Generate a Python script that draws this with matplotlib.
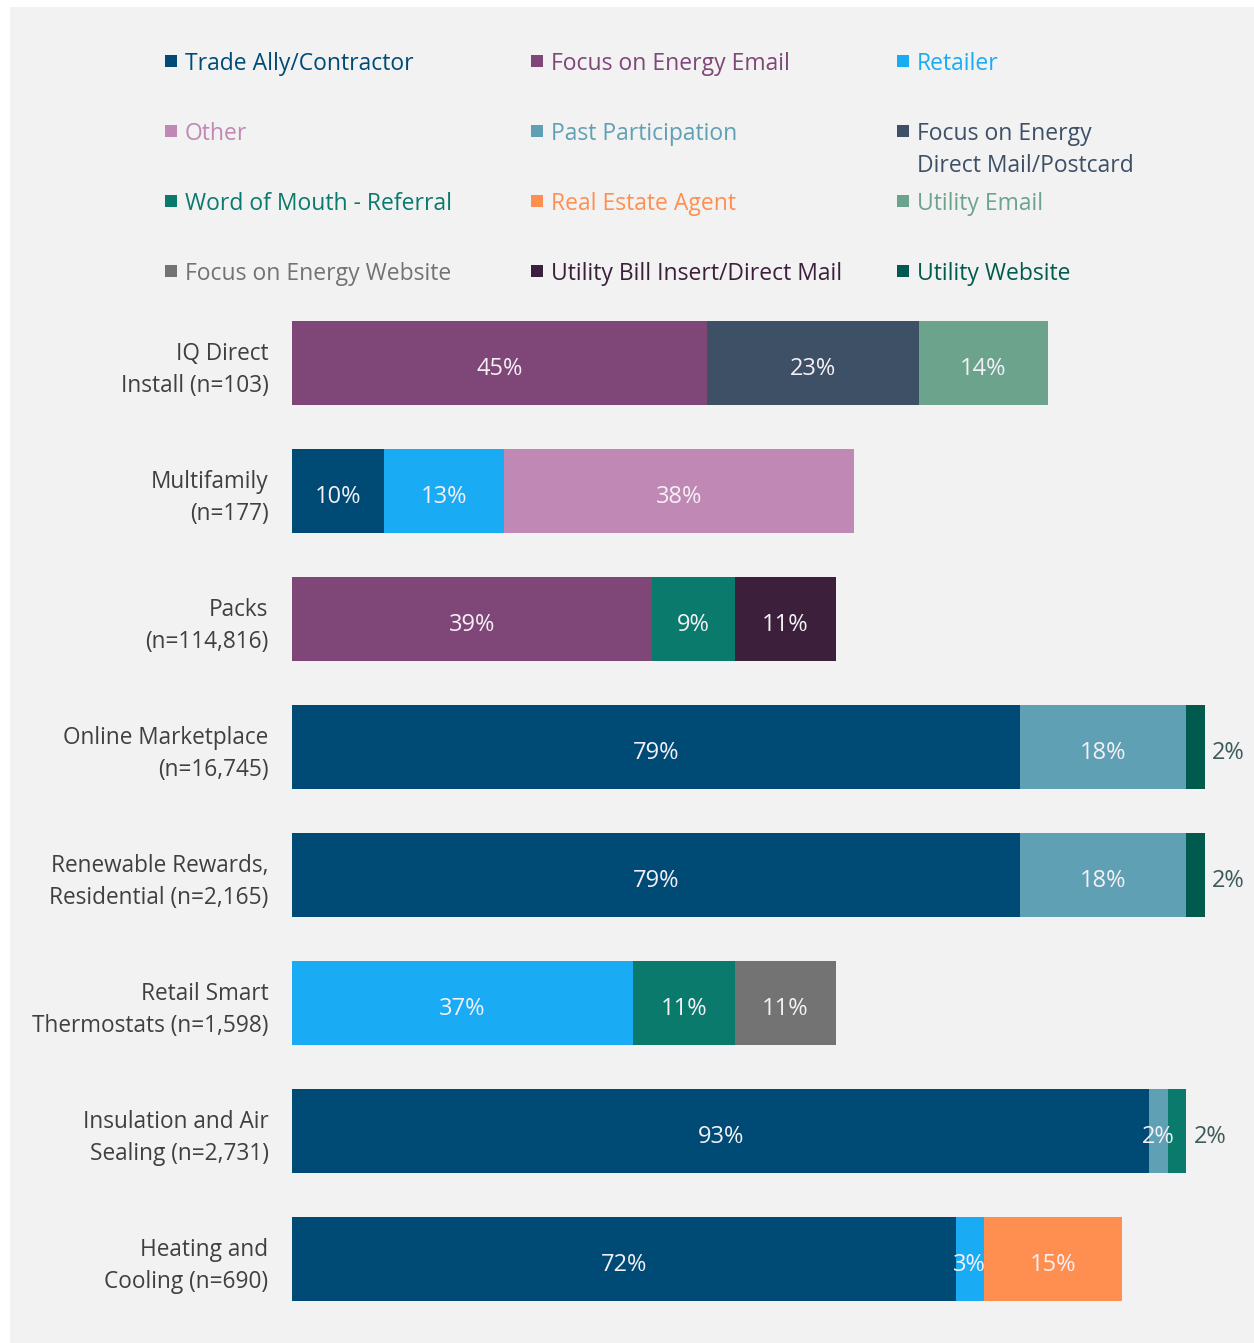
import numpy as np
import matplotlib
matplotlib.use("Agg")
import matplotlib.pyplot as plt
from matplotlib.patches import Rectangle

plt.rcParams['font.family'] = ['Open Sans', 'DejaVu Sans']

# categories, top to bottom
programs = ["IQ Direct\nInstall (n=103)", "Multifamily\n(n=177)", "Packs\n(n=114,816)",
            "Online Marketplace\n(n=16,745)", "Renewable Rewards,\nResidential (n=2,165)",
            "Retail Smart\nThermostats (n=1,598)", "Insulation and Air\nSealing (n=2,731)",
            "Heating and\nCooling (n=690)"]

# legend order (row-wise, 3 columns)
sources = ["Trade Ally/Contractor", "Focus on Energy Email", "Retailer",
           "Other", "Past Participation", "Focus on Energy\nDirect Mail/Postcard",
           "Word of Mouth - Referral", "Real Estate Agent", "Utility Email",
           "Focus on Energy Website", "Utility Bill Insert/Direct Mail", "Utility Website"]
colors = ["#004b76", "#7f4678", "#1aabf5",
          "#c088b4", "#5fa0b5", "#3e5066",
          "#0a7a6c", "#ff8f50", "#6ba38d",
          "#737373", "#3c1f3a", "#005a4d"]

# segments per program: (source index, percent)
segments = [
    [(1, 45), (5, 23), (8, 14)],
    [(0, 10), (2, 13), (3, 38)],
    [(1, 39), (6, 9), (10, 11)],
    [(0, 79), (4, 18), (11, 2)],
    [(0, 79), (4, 18), (11, 2)],
    [(2, 37), (6, 11), (9, 11)],
    [(0, 93), (4, 2), (6, 2)],
    [(0, 72), (2, 3), (7, 15)],
]
# small segments whose label sits outside the bar
outside = {(3, 2), (4, 2), (6, 2)}

W, H = 1254, 1343
fig = plt.figure(figsize=(W / 100, H / 100), dpi=100)
fig.patch.set_facecolor("white")
fig.patches.append(Rectangle((10 / W, 0), 1, 1 - 7 / H, transform=fig.transFigure,
                             facecolor="#f2f2f2", edgecolor="none", zorder=-10))

ax = fig.add_axes([292 / W, 1 - 1323 / H, 922 / W, 1024 / H])
ax.set_facecolor("none")

label_color = "#404040"
for i, segs in enumerate(segments):
    left = 0
    for j, (k, v) in enumerate(segs):
        ax.barh(i, v, left=left, height=0.66, color=colors[k], edgecolor="none")
        if (i, j) in outside:
            ax.text(left + v + 0.8, i + 0.02, f"{v}%", ha="left", va="center_baseline",
                    fontsize=17, color="#3f5a5a")
        else:
            ax.text(left + v / 2, i + 0.02, f"{v}%", ha="center", va="center_baseline",
                    fontsize=17, color="#f4f0f6")
        left += v

ax.set_xlim(0, 100)
ax.set_ylim(7.5, -0.5)
ax.set_yticks(range(len(programs)))
ax.set_yticklabels(programs, fontsize=16.3, color=label_color, linespacing=1.45,
                   ha="right")
ax.tick_params(axis="y", length=0, pad=17)
ax.set_xticks([])
for s in ax.spines.values():
    s.set_visible(False)

# legend drawn as colored squares with colored names
col_x = [165, 531, 897]
row_y = [61, 131, 201, 271]
for n, (name, c) in enumerate(zip(sources, colors)):
    r, cidx = divmod(n, 3)
    x, y = col_x[cidx], row_y[r]
    fig.patches.append(Rectangle((x / W, 1 - (y + 6) / H), 12 / W, 12 / H,
                                 transform=fig.transFigure, facecolor=c,
                                 edgecolor="none"))
    for li, line in enumerate(name.split("\n")):
        fig.text((x + 20) / W, 1 - (y + 32 * li) / H, line, ha="left",
                 va="center_baseline", fontsize=16.5, color=c)

fig.savefig("out.png", dpi=100)
